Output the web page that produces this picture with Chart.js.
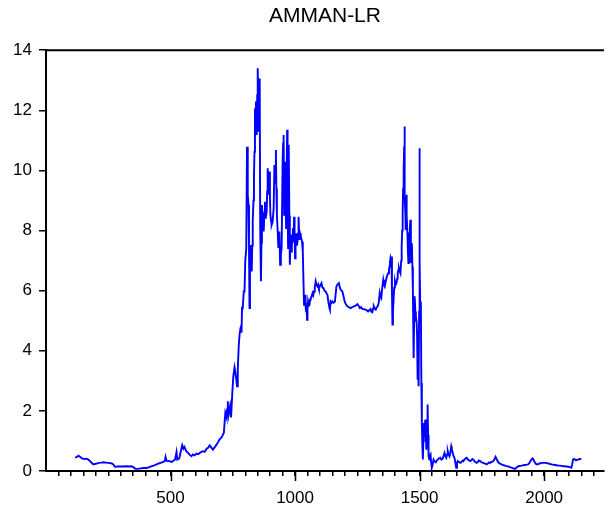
<!DOCTYPE html>
<html>
<head>
<meta charset="utf-8">
<script src="https://cdn.jsdelivr.net/npm/chart.js@4"></script>
<style>
  html, body { margin: 0; padding: 0; background: #fff; }
  #wrap { width: 606px; height: 511px; }
</style>
</head>
<body>
<div id="wrap"><canvas id="c" width="606" height="511"></canvas></div>
<script>
const chartTitle = 'AMMAN-LR';
const yTickValues = [0, 2, 4, 6, 8, 10, 12, 14];
const xMajorTicks = [500, 1000, 1500, 2000];
const xMinorStep = 50;

const obs = [
117,124,130,137,144,155,163,170,180,190,200,212,222,230,240,250,258,264,270,277,290,305,320,335,344,352,358,364,375,390,404,415,425,435,444,452,460,470,477,480,484,495,505,510,518,524,527,535,541,547,552,556,563,570,575,584,590,597,604,612,620,630,637,645,652,657,662,670,680,690,697,705,710,714,717,720,724,727,730,732,736,739,743,748,752,757,760,764,767,770,774,777,781,783,785,787,790,794,797,
800,804,807,810,813,815,817,819,821,824,826,828,830,833,835,837,839,841,843,846,848,850,852,854,856,858,860,863,865,867,870,874,877,879,882,886,888,890,892,894,897,899,901,904,906,910,914,917,920,923,925,927,930,933,937,940,943,946,950,952,954,956,958,960,962,964,966,968,970,972,974,975,977,979,981,983,985,987,990,992,994,996,998,
1000,1002,1004,1007,1010,1012,1014,1016,1018,1020,1023,1026,1028,1031,1034,1036,1038,1040,1042,1044,1046,1048,1050,1052,1055,1058,1060,1063,1066,1070,1073,1076,1079,1083,1086,1090,1093,1096,1100,1106,1110,1114,1118,1123,1127,1130,1134,1138,1140,1143,1147,1150,1155,1160,1163,1166,1170,1176,1180,1183,1187,1190,1195,1199,
1204,1210,1216,1223,1230,1236,1243,1250,1255,1260,1265,1270,1277,1283,1288,1293,1298,1303,1306,1310,1313,1316,1320,1324,1328,1332,1336,1340,1343,1346,1350,1354,1357,1360,1364,1367,1370,1374,1377,1379,1381,1383,1385,1387,1389,1391,1393,1396,1398,
1401,1404,1407,1410,1412,1415,1417,1420,1423,1426,1428,1430,1432,1434,1436,1438,1439,1440,1441,1443,1444,1446,1447,1449,1451,1453,1455,1457,1459,1461,1463,1465,1467,1469,1471,1473,1476,1478,1480,1483,1485,1488,1490,1492,1494,1496,1498,1499,
1501,1503,1505,1507,1509,1511,1513,1515,1517,1520,1523,1525,1527,1530,1532,1534,1535,1537,1539,1541,1544,1546,1549,1552,1556,1560,1565,1569,1573,1578,1583,1587,1592,1596,
1600,1603,1607,1610,1613,1616,1620,1623,1627,1629,1631,1633,1636,1640,1643,1647,1650,1653,1658,1663,1668,1673,1676,1680,1685,1689,1694,1698,
1703,1708,1712,1716,1720,1724,1729,1734,1738,1743,1747,1752,1756,1760,1765,1769,1774,1778,1783,1788,1792,1796,
1800,1805,1810,1816,1822,1829,1835,1842,1849,1856,1862,1869,1876,1883,1890,1896,1903,1910,1916,1923,1930,1936,1942,1946,1949,1953,1956,1960,1965,1969,1975,1982,1989,1996,
2002,2009,2016,2022,2029,2036,2043,2050,2056,2063,2070,2076,2082,2089,2096,2103,2109,2112,2116,2120,2125,2129,2134,2140,2145,2149
];

const values = [
0.44,0.47,0.51,0.47,0.42,0.40,0.41,0.38,0.30,0.22,0.24,0.27,0.28,0.29,0.28,0.27,0.26,0.25,0.22,0.14,0.15,0.15,0.16,0.15,0.16,0.12,0.08,0.07,0.08,0.10,0.10,0.13,0.16,0.19,0.22,0.25,0.27,0.30,0.33,0.47,0.34,0.33,0.30,0.33,0.38,0.63,0.38,0.42,0.65,0.86,0.74,0.80,0.66,0.61,0.55,0.49,0.55,0.52,0.58,0.56,0.62,0.66,0.64,0.74,0.78,0.85,0.80,0.71,0.82,0.95,1.05,1.12,1.20,1.27,1.60,1.93,1.80,2.05,2.32,1.82,2.00,2.15,1.78,2.60,3.15,3.45,3.30,3.05,2.82,3.40,4.20,4.53,4.76,4.81,4.60,5.43,5.42,5.97,5.97,
6.97,7.40,10.79,9.20,8.85,7.50,5.42,6.80,7.52,7.00,6.64,7.50,8.30,9.00,9.80,10.62,12.07,11.50,12.29,11.18,12.50,13.40,12.40,11.29,12.20,13.06,8.09,6.31,7.60,8.85,8.40,7.97,8.60,8.96,8.40,8.63,9.30,10.07,9.50,9.19,9.96,9.10,8.52,8.30,8.19,8.30,8.74,10.18,9.60,10.68,9.40,8.52,8.00,7.42,7.97,6.86,7.20,7.42,10.29,10.90,11.18,8.52,9.50,10.29,9.00,8.08,9.80,11.35,9.00,7.42,9.50,10.85,8.50,6.86,7.50,7.86,7.30,7.52,7.80,8.08,7.60,8.46,7.90,
7.08,7.50,7.91,7.50,7.63,7.90,8.46,8.00,7.69,7.90,7.80,7.70,7.63,7.30,6.20,5.53,5.70,5.86,5.50,5.31,5.60,5.03,5.40,5.64,5.50,5.53,5.70,5.75,5.80,5.92,5.85,5.97,6.10,6.31,6.20,6.14,6.20,6.09,6.15,6.25,6.10,6.09,6.00,5.97,5.90,5.86,5.60,5.42,5.37,5.64,5.60,5.64,5.60,5.64,5.90,6.14,6.20,6.25,6.10,6.03,6.00,5.97,5.80,5.64,
5.55,5.48,5.45,5.42,5.45,5.48,5.50,5.55,5.50,5.42,5.45,5.39,5.38,5.37,5.35,5.31,5.35,5.39,5.30,5.28,5.40,5.48,5.40,5.37,5.45,5.48,5.60,5.92,5.80,5.75,6.10,6.36,6.20,6.14,6.30,6.42,6.50,6.58,6.70,6.80,6.95,7.08,7.00,7.14,6.00,4.87,5.30,5.81,6.10,
6.31,6.20,6.25,6.40,6.58,6.70,6.75,6.65,6.58,7.00,7.47,8.00,8.69,9.40,10.02,10.80,11.46,10.00,9.13,8.50,8.02,8.80,9.19,8.50,7.91,7.30,6.92,7.50,7.91,8.10,8.36,6.92,7.20,7.58,6.80,6.03,3.76,5.00,5.81,5.30,5.14,4.95,4.50,3.04,3.50,2.82,5.30,10.74,
7.00,5.14,5.64,2.93,1.60,0.90,0.38,1.00,1.60,1.40,1.71,1.20,0.71,1.50,2.21,1.20,0.71,0.50,0.38,0.50,0.55,0.30,0.11,0.20,0.38,0.32,0.29,0.35,0.38,0.42,0.44,0.38,0.40,0.50,
0.60,0.50,0.44,0.55,0.66,0.55,0.49,0.60,0.82,0.75,0.65,0.60,0.50,0.44,0.30,0.11,0.25,0.33,0.30,0.27,0.30,0.35,0.33,0.38,0.42,0.44,0.38,0.36,
0.33,0.36,0.40,0.38,0.32,0.30,0.27,0.30,0.35,0.33,0.30,0.28,0.27,0.25,0.24,0.22,0.25,0.28,0.27,0.30,0.31,0.33,
0.38,0.47,0.38,0.29,0.25,0.22,0.20,0.18,0.16,0.15,0.13,0.11,0.09,0.07,0.12,0.16,0.17,0.18,0.19,0.20,0.21,0.22,0.28,0.35,0.38,0.42,0.40,0.32,0.26,0.22,0.23,0.25,0.27,0.27,
0.27,0.27,0.25,0.24,0.22,0.21,0.20,0.19,0.18,0.18,0.17,0.16,0.16,0.15,0.14,0.13,0.11,0.20,0.38,0.40,0.37,0.36,0.38,0.39,0.40,0.40
];

const points = obs.map((o, i) => ({ x: o, y: values[i] }));

const framePlugin = {
  id: 'frame',
  afterDraw(chart) {
    const { ctx, chartArea: a, scales } = chart;
    ctx.save();
    ctx.strokeStyle = '#000';
    ctx.lineWidth = 2;
    ctx.beginPath();
    ctx.moveTo(a.left - 1, a.top);
    ctx.lineTo(a.right, a.top);
    ctx.stroke();
    ctx.lineWidth = 1.5;
    xMajorTicks.forEach(v => {
      const px = Math.round(scales.x.getPixelForValue(v)) + 0.5;
      ctx.beginPath();
      ctx.moveTo(px, a.bottom);
      ctx.lineTo(px, a.bottom + 10);
      ctx.stroke();
    });
    ctx.restore();
  }
};

new Chart(document.getElementById('c'), {
  type: 'line',
  data: {
    datasets: [{
      data: points,
      borderColor: 'rgb(0,0,255)',
      borderWidth: 1.9,
      pointRadius: 0,
      tension: 0,
      fill: false
    }]
  },
  options: {
    responsive: false,
    animation: false,
    devicePixelRatio: 1,
    layout: { padding: 0 },
    plugins: {
      legend: { display: false },
      tooltip: { enabled: false },
      title: {
        display: true,
        text: chartTitle,
        fullSize: false,
        color: '#000',
        font: { family: '"Liberation Sans", Arial, sans-serif', size: 21, weight: 'normal' },
        padding: { top: 4, bottom: 21 }
      }
    },
    scales: {
      x: {
        type: 'linear',
        min: 0,
        max: 2240,
        afterBuildTicks(scale) {
          const t = [];
          for (let v = xMinorStep; v <= 2200; v += xMinorStep) t.push({ value: v });
          scale.ticks = t;
        },
        afterFit(scale) { scale.height = 40; },
        border: { display: true, color: '#000', width: 2 },
        grid: { display: true, drawOnChartArea: false, drawTicks: true, tickLength: 5, color: '#000', lineWidth: 1.5 },
        ticks: {
          autoSkip: false,
          maxRotation: 0,
          padding: 12,
          color: '#000',
          font: { family: '"Liberation Sans", Arial, sans-serif', size: 17 },
          callback: (v) => (xMajorTicks.includes(v) ? String(v) : '')
        }
      },
      y: {
        min: 0,
        max: 14,
        afterBuildTicks(scale) { scale.ticks = yTickValues.map(v => ({ value: v })); },
        afterFit(scale) { scale.width = 46; },
        border: { display: true, color: '#000', width: 2 },
        grid: { display: true, drawOnChartArea: false, drawTicks: true, tickLength: 7, color: '#000', lineWidth: 1.5 },
        ticks: {
          padding: 7,
          color: '#000',
          font: { family: '"Liberation Sans", Arial, sans-serif', size: 17 }
        }
      }
    }
  },
  plugins: [framePlugin]
});
</script>
</body>
</html>
